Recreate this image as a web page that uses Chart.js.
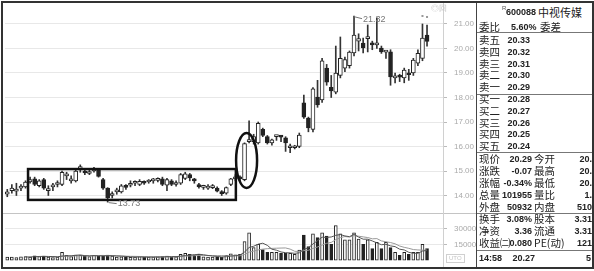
<!DOCTYPE html>
<html>
<head>
<meta charset="utf-8">
<script src="https://cdn.jsdelivr.net/npm/chart.js@4.4.0/dist/chart.umd.min.js"></script>
<style>
  body { margin: 0; background: #fff; }
  #wrap { position: relative; width: 594px; height: 271px; overflow: hidden; font-family: "Noto Sans CJK SC", sans-serif; }
  #frame { position: absolute; left: 1px; top: 1px; width: 589px; height: 264px; border: 2px solid #333; }
  canvas { position: absolute; }
  .line { position: absolute; background: #777; height: 1px; }
  .lb { position: absolute; font-size: 10.5px; color: #222; line-height: 14px; white-space: nowrap; }
  .nm { position: absolute; font-family: "Liberation Sans", sans-serif;
        font-weight: bold; font-size: 9px; color: #222; line-height: 14px; white-space: nowrap; }
  .sup { position: absolute; font-size: 6px; color: #555; line-height: 8px; font-family: "Liberation Sans", sans-serif; }
  .tiny { position: absolute; font-size: 8px; color: #c4c4c4; font-family: "Liberation Sans", sans-serif; }
</style>
</head>
<body>
<div id="wrap">
  <div id="frame"></div>
  <canvas id="price" width="472" height="210" style="left:5px;top:3px"></canvas>
  <div class="line" style="left:3px;top:213px;width:474px;background:#c4c4c4"></div>
  <canvas id="vol" width="472" height="54" style="left:5px;top:213px"></canvas>
  <div class="tiny" style="left:431px;top:3px">◎回</div>
  <div class="tiny" style="left:446px;top:254px;border:1px solid #d0d0d0;font-size:6px;line-height:7px;padding:0 2px">UTO</div>
  <div style="position:absolute;left:476px;top:3px;width:1px;height:264px;background:#444"></div>
  <div id="panel"></div>
</div>
<script>
// daily candles (index 0 = leftmost)
var opens = [14.05, 14.20, 14.18, 14.30, 14.35, 14.55, 14.68, 14.40, 14.65, 14.20,
             14.35, 14.45, 14.45, 14.80, 14.60, 14.60, 15.10, 15.00, 14.90, 15.00,
             15.05, 14.65, 14.30, 14.00, 14.15, 14.15, 14.35, 14.42, 14.50, 14.45,
             14.52, 14.55, 14.60, 14.62, 14.68, 14.42, 14.60, 14.45, 14.50, 14.70,
             14.85, 14.62, 14.45, 14.33, 14.30, 14.32, 14.30, 14.10, 14.10, 14.45,
             14.68, 14.72, 14.65, 16.20, 16.20, 16.15, 16.70, 16.40, 16.15, 16.40,
             16.40, 16.35, 15.95, 15.95, 16.00, 17.78, 17.16, 16.70, 18.02, 17.90,
             19.20, 18.42, 18.22, 18.90, 19.20, 19.30, 19.82, 20.30, 20.22, 20.40,
             20.20, 20.15, 20.02, 19.85, 19.86, 18.80, 18.90, 18.80, 18.95, 19.00,
             19.40, 19.60, 20.55];
var highs = [14.25, 14.45, 14.50, 14.45, 14.60, 14.75, 14.75, 14.65, 14.70, 14.40,
             14.50, 14.60, 15.00, 14.95, 14.80, 15.05, 15.25, 15.10, 15.05, 15.15,
             15.10, 14.70, 14.32, 14.15, 14.30, 14.45, 14.45, 14.60, 14.60, 14.65,
             14.60, 14.65, 14.70, 14.72, 14.75, 14.70, 14.65, 14.60, 14.90, 14.95,
             14.90, 14.70, 14.50, 14.42, 14.45, 14.45, 14.35, 14.20, 14.35, 14.70,
             14.85, 14.80, 16.15, 17.05, 16.50, 17.00, 16.75, 16.45, 16.30, 16.45,
             16.45, 16.40, 16.10, 16.05, 16.55, 18.10, 17.20, 18.40, 18.70, 19.60,
             19.35, 18.90, 20.10, 20.47, 19.65, 19.90, 21.32, 20.60, 20.43, 20.96,
             20.30, 21.25, 20.10, 19.90, 19.95, 19.00, 18.95, 19.20, 19.15, 19.60,
             19.95, 21.00, 20.96];
var lows = [13.95, 14.10, 14.00, 14.20, 14.30, 14.50, 14.40, 14.35, 14.25, 14.00,
            14.20, 14.35, 14.40, 14.65, 14.50, 14.55, 14.95, 14.85, 14.85, 14.95,
            14.75, 14.25, 13.73, 13.90, 14.05, 14.10, 14.25, 14.35, 14.40, 14.40,
            14.45, 14.50, 14.50, 14.55, 14.40, 14.20, 14.40, 14.38, 14.45, 14.65,
            14.60, 14.50, 14.30, 14.25, 14.25, 14.28, 14.15, 14.00, 14.05, 14.40,
            14.60, 14.60, 14.60, 16.15, 16.10, 16.10, 16.40, 16.10, 16.05, 16.25,
            16.20, 15.80, 15.75, 15.90, 15.95, 17.15, 16.60, 16.60, 17.60, 17.80,
            18.50, 18.00, 18.15, 18.80, 19.05, 19.20, 19.70, 19.90, 19.82, 19.86,
            19.95, 20.00, 19.80, 19.60, 18.50, 18.60, 18.65, 18.60, 18.70, 18.90,
            19.30, 19.50, 20.10];
var closes = [14.15, 14.30, 14.25, 14.30, 14.55, 14.65, 14.45, 14.60, 14.30, 14.25,
              14.40, 14.50, 14.95, 14.82, 14.68, 15.00, 15.12, 14.92, 14.98, 15.10,
              14.78, 14.30, 13.90, 14.08, 14.17, 14.40, 14.33, 14.45, 14.52, 14.58,
              14.50, 14.57, 14.62, 14.64, 14.45, 14.65, 14.45, 14.50, 14.85, 14.88,
              14.72, 14.60, 14.35, 14.35, 14.38, 14.38, 14.18, 14.08, 14.32, 14.68,
              14.75, 14.68, 16.12, 16.22, 16.40, 16.95, 16.45, 16.15, 16.27, 16.42,
              16.38, 16.15, 15.95, 15.98, 16.47, 17.20, 16.76, 18.35, 17.70, 19.50,
              18.63, 18.27, 19.00, 19.60, 19.55, 19.85, 20.55, 20.40, 20.02, 20.45,
              20.15, 20.20, 19.86, 19.86, 18.84, 18.85, 18.83, 19.12, 18.93, 19.53,
              19.80, 20.43, 20.29];
var volumes = [2800, 3000, 2500, 3200, 3500, 3000, 4200, 3500, 3800, 3000,
               2500, 2800, 7500, 4500, 3500, 4800, 4500, 4000, 3500, 4500,
               4000, 4200, 4800, 3800, 3000, 3200, 2800, 2600, 3000, 3500,
               2600, 2800, 3000, 3200, 3500, 3800, 3000, 3200, 5500, 6500,
               5500, 5000, 5500, 3200, 3000, 3000, 2800, 3000, 4500, 6000,
               5000, 5500, 17800, 26000, 12000, 15000, 10000, 7500, 7500, 7500,
               6500, 6500, 6500, 5600, 9500, 24000, 13000, 25000, 21500, 26000,
               23000, 15000, 33000, 25000, 19500, 19500, 26000, 20000, 15000, 19500,
               11000, 17000, 11000, 17000, 12000, 7500, 4700, 7500, 5600, 7500,
               7500, 15000, 11000];

var priceTicks = [14, 15, 16, 17, 18, 19, 20, 21];
var volumeTicks = [15000, 30000];

// quote panel
var stockCode = '600088';
var stockName = '中视传媒';
var askLabels = ['卖五', '卖四', '卖三', '卖二', '卖一'];
var askPrices = ['20.33', '20.32', '20.31', '20.30', '20.29'];
var bidLabels = ['买一', '买二', '买三', '买四', '买五'];
var bidPrices = ['20.28', '20.27', '20.26', '20.25', '20.24'];
var quoteRows = [
  ['现价', '20.29', '今开', '20.'],
  ['涨跌', '-0.07', '最高', '20.'],
  ['涨幅', '-0.34%', '最低', '20.'],
  ['总量', '101955', '量比', '1.'],
  ['外盘', '50932', '内盘', '510']
];
var financeRows = [
  ['换手', '3.08%', '股本', '3.31'],
  ['净资', '3.36', '流通', '3.31'],
  ['收益㈡', '0.080', 'PE(动)', '121']
];
var lastTick = ['14:58', '20.27', '5'];

// marks drawn over the candles, in data units (candle index, price)
var boxSpan = [4.55, 50.1];
var boxPrice = [13.82, 15.08];
var ringCenter = [52.45, 15.43];
var ringRadius = [2.3, 1.12];

var N = 96;
var labels = [];
for (var i = 0; i < N; i++) labels.push(i < opens.length ? String(i) : '');

var bodies = [], wicks = [], fills = [];
for (var i = 0; i < opens.length; i++) {
  bodies.push([Math.min(opens[i], closes[i]), Math.max(opens[i], closes[i])]);
  wicks.push([lows[i], highs[i]]);
  fills.push(closes[i] >= opens[i] ? '#ffffff' : '#222222');
}

function movingAvg(arr, n) {
  return arr.map(function(v, i) {
    if (i < n - 1) return null;
    var s = 0;
    for (var k = i - n + 1; k <= i; k++) s += arr[k];
    return s / n;
  });
}

var marks = {
  id: 'marks',
  afterDatasetsDraw: function(chart) {
    var ctx = chart.ctx, x = chart.scales.x, y = chart.scales.y;
    ctx.save();
    ctx.strokeStyle = '#111';
    ctx.lineWidth = 2.5;
    var x0 = x.getPixelForValue(boxSpan[0]), x1 = x.getPixelForValue(boxSpan[1]);
    var y0 = y.getPixelForValue(boxPrice[1]), y1 = y.getPixelForValue(boxPrice[0]);
    ctx.strokeRect(x0, y0, x1 - x0, y1 - y0);

    var cx = x.getPixelForValue(ringCenter[0]), cy = y.getPixelForValue(ringCenter[1]);
    var rx = x.getPixelForValue(ringCenter[0] + ringRadius[0]) - cx;
    var ry = cy - y.getPixelForValue(ringCenter[1] + ringRadius[1]);
    ctx.beginPath();
    ctx.ellipse(cx, cy, rx, ry, 0, 0, Math.PI * 2);
    ctx.stroke();

    // highest / lowest price tags
    var hi = 0, lo = 0;
    for (var i = 1; i < highs.length; i++) {
      if (highs[i] > highs[hi]) hi = i;
      if (lows[i] < lows[lo]) lo = i;
    }
    ctx.strokeStyle = '#777';
    ctx.fillStyle = '#777';
    ctx.lineWidth = 1;
    ctx.font = '9px "Liberation Sans", sans-serif';
    ctx.textBaseline = 'middle';
    var hx = x.getPixelForValue(hi), hy = y.getPixelForValue(highs[hi]);
    ctx.beginPath();
    ctx.moveTo(hx, hy + 0.5); ctx.lineTo(hx + 8, hy + 2.5);
    ctx.stroke();
    ctx.fillText(highs[hi].toFixed(2), hx + 9, hy + 3);
    var lx = x.getPixelForValue(lo), ly = y.getPixelForValue(lows[lo]);
    ctx.beginPath();
    ctx.moveTo(lx + 1, ly + 0.5); ctx.lineTo(lx + 9, ly + 1.5);
    ctx.stroke();
    ctx.fillText(lows[lo].toFixed(2), lx + 10, ly + 1.5);

    // two small dots over the last bars
    var last = opens.length - 1;
    ctx.fillStyle = '#999';
    [last - 1, last].forEach(function(k) {
      ctx.fillRect(x.getPixelForValue(k) - 1, y.getPixelForValue(highs[k]) - 9, 2, 2);
    });
    ctx.restore();
  }
};

var axisWidth = 34;

new Chart(document.getElementById('price'), {
  type: 'bar',
  data: {
    labels: labels,
    datasets: [{
      data: bodies,
      backgroundColor: fills,
      borderColor: '#222',
      borderWidth: 1,
      borderSkipped: false,
      barThickness: 4,
      minBarLength: 2,
      grouped: false,
      order: 1
    }, {
      data: wicks,
      backgroundColor: '#333',
      borderWidth: 0,
      barThickness: 1,
      grouped: false,
      order: 2
    }]
  },
  options: {
    responsive: false,
    animation: false,
    events: [],
    layout: { padding: 0, autoPadding: false },
    plugins: { legend: { display: false }, tooltip: { enabled: false } },
    scales: {
      x: { display: false, offset: true },
      y: {
        position: 'right',
        min: 13.286,
        max: 21.857,
        afterBuildTicks: function(s) { s.ticks = priceTicks.map(function(v) { return { value: v }; }); },
        afterFit: function(s) { s.width = axisWidth; s.paddingTop = 0; s.paddingBottom = 0; },
        grid: { color: '#e8e8e8', tickColor: '#bbb', tickLength: 4 },
        border: { display: true, color: '#d0d0d0' },
        ticks: {
          padding: 7,
          color: '#aaa',
          font: { size: 8, family: 'Liberation Sans' },
          callback: function(v) { return Number(v).toFixed(2); }
        }
      }
    }
  },
  plugins: [marks]
});

var volFills = closes.map(function(c, i) { return c >= opens[i] ? '#ffffff' : '#222222'; });

new Chart(document.getElementById('vol'), {
  type: 'bar',
  data: {
    labels: labels,
    datasets: [{
      type: 'line',
      data: movingAvg(volumes, 5),
      borderColor: '#555',
      borderWidth: 1,
      pointRadius: 0,
      order: 0
    }, {
      type: 'line',
      data: movingAvg(volumes, 10),
      borderColor: '#999',
      borderWidth: 1,
      pointRadius: 0,
      order: 0
    }, {
      data: volumes,
      backgroundColor: volFills,
      borderColor: '#222',
      borderWidth: 1,
      borderSkipped: false,
      barThickness: 3,
      order: 1
    }]
  },
  options: {
    responsive: false,
    animation: false,
    events: [],
    layout: { padding: 0, autoPadding: false },
    plugins: { legend: { display: false }, tooltip: { enabled: false } },
    scales: {
      x: { display: false, offset: true },
      y: {
        position: 'right',
        min: -6562,
        max: 45000,
        afterBuildTicks: function(s) { s.ticks = volumeTicks.map(function(v) { return { value: v }; }); },
        afterFit: function(s) { s.width = axisWidth; s.paddingTop = 0; s.paddingBottom = 0; },
        grid: { color: '#e8e8e8', tickColor: '#bbb', tickLength: 4 },
        border: { display: true, color: '#d0d0d0' },
        ticks: {
          padding: 7,
          color: '#aaa',
          font: { size: 8, family: 'Liberation Sans' },
          callback: function(v) { return String(v); }
        }
      }
    }
  }
});

// right hand quote panel
var panel = document.getElementById('panel');
function put(text, x, yc, cls, alignRight) {
  var s = document.createElement('span');
  s.className = cls;
  s.textContent = text;
  s.style.top = (yc - 7) + 'px';
  if (alignRight) s.style.right = (594 - x) + 'px';
  else s.style.left = x + 'px';
  panel.appendChild(s);
  return s;
}
function rule(y) {
  var d = document.createElement('div');
  d.className = 'line';
  d.style.left = '477px';
  d.style.width = '115px';
  d.style.top = y + 'px';
  panel.appendChild(d);
}

var s = document.createElement('span');
s.className = 'sup'; s.textContent = 'R'; s.style.left = '502px'; s.style.top = '4px';
panel.appendChild(s);
put(stockCode, 506, 12, 'nm');
put(stockName, 538, 12, 'lb').style.fontSize = '11px';
put('委比', 479, 27, 'lb');
put('5.60%', 511, 27, 'nm');
put('委差', 540, 27, 'lb');
rule(32);
for (var k = 0; k < askLabels.length; k++) {
  put(askLabels[k], 479, 40 + k * 11.75, 'lb');
  put(askPrices[k], 530, 40 + k * 11.75, 'nm', true);
}
rule(94);
for (var k = 0; k < bidLabels.length; k++) {
  put(bidLabels[k], 479, 99 + k * 11.8, 'lb');
  put(bidPrices[k], 530, 99 + k * 11.8, 'nm', true);
}
rule(152);
quoteRows.forEach(function(r, k) {
  var yc = 159 + k * 12;
  put(r[0], 479, yc, 'lb');
  put(r[1], 532, yc, 'nm', true);
  put(r[2], 534, yc, 'lb');
  put(r[3], 592, yc, 'nm', true);
});
rule(213);
financeRows.forEach(function(r, k) {
  var yc = 219 + k * 12;
  put(r[0], 479, yc, 'lb');
  put(r[1], 532, yc, 'nm', true);
  put(r[2], 534, yc, 'lb');
  put(r[3], 592, yc, 'nm', true);
});
rule(250);
put(lastTick[0], 479, 258, 'nm');
put(lastTick[1], 535, 258, 'nm', true);
put(lastTick[2], 591, 258, 'nm', true);
</script>
</body>
</html>
